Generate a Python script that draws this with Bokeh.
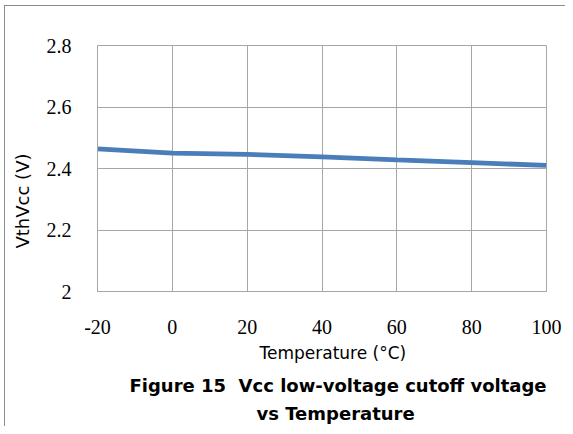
from bokeh.plotting import figure
from bokeh.models import Range1d, FixedTicker, Title
from bokeh.embed import file_html
from bokeh.resources import INLINE

# ---- data ----
temps = [-20, 0, 20, 40, 60, 80, 100]
vth = [2.464, 2.450, 2.446, 2.438, 2.428, 2.419, 2.410]
x_ticks = [-20, 0, 20, 40, 60, 80, 100]
x_tick_labels = ["-20", "0", "20", "40", "60", "80", "100"]
y_ticks = [2.0, 2.2, 2.4, 2.6, 2.8]
y_tick_labels = ["2", "2.2", "2.4", "2.6", "2.8"]
x_title = "Temperature (°C)"
y_title = "VthVcc (V)"
fig_title_1 = "Figure 15\u00a0 Vcc low-voltage cutoff voltage"
fig_title_2 = "vs Temperature"

GRID = "#a6a6a6"
EDGE = "#8c8c8c"
W, H = 565, 426

p = figure(width=W, height=H, output_backend="svg", toolbar_location=None,
           x_range=Range1d(-20, 100), y_range=Range1d(2.0, 2.8),
           min_border_left=97, min_border_right=19, min_border_top=45,
           min_border_bottom=135)
p.border_fill_color = None
p.styles = {
    "background": (f"linear-gradient({EDGE},{EDGE}) 4px 5px / 1px 100% no-repeat, "
                   f"linear-gradient({EDGE},{EDGE}) 4px 5px / 100% 1px no-repeat, white")
}
p.background_fill_color = "white"
p.outline_line_color = GRID
p.outline_line_width = 1

p.line(temps, vth, line_color="#4a7ebb", line_width=4.8)

p.xaxis.ticker = FixedTicker(ticks=x_ticks)
p.yaxis.ticker = FixedTicker(ticks=y_ticks)
p.xaxis.major_label_overrides = {t: s for t, s in zip(x_ticks, x_tick_labels)}
p.yaxis.major_label_overrides = {t: s for t, s in zip(y_ticks, y_tick_labels)}

for ax in (p.xaxis, p.yaxis):
    ax.axis_line_color = GRID
    ax.major_tick_line_color = None
    ax.minor_tick_line_color = None
    ax.major_tick_out = 0
    ax.major_tick_in = 0
    ax.minor_tick_out = 0
    ax.minor_tick_in = 0
    ax.major_label_text_font = "Liberation Serif"
    ax.major_label_text_font_size = "20px"
    ax.major_label_text_color = "black"
p.xaxis.major_label_standoff = 28
p.yaxis.major_label_standoff = 26

p.xgrid.grid_line_color = GRID
p.ygrid.grid_line_color = GRID
p.xgrid.ticker = FixedTicker(ticks=x_ticks)
p.ygrid.ticker = FixedTicker(ticks=y_ticks)

# y axis title (left panel, placed outside the tick labels)
p.add_layout(Title(text=y_title, align="left", offset=43, vertical_align="top",
                   standoff=18, text_font="DejaVu Sans", text_font_size="18px",
                   text_font_style="normal", text_color="black"), "left")

# x axis title and figure caption (below panels, in order away from the frame)
p.add_layout(Title(text=x_title, align="left", offset=162, vertical_align="top",
                   standoff=12, text_font="DejaVu Sans", text_font_size="17px",
                   text_font_style="normal", text_color="black"), "below")
p.add_layout(Title(text=fig_title_1, align="left", offset=32, vertical_align="top",
                   standoff=9, text_font="DejaVu Sans", text_font_size="18px",
                   text_font_style="bold", text_color="black"), "below")
p.add_layout(Title(text=fig_title_2, align="left", offset=159, vertical_align="top",
                   standoff=0, text_font="DejaVu Sans", text_font_size="18px",
                   text_font_style="bold", text_color="black"), "below")

open("out.html", "w").write(file_html(p, INLINE))
